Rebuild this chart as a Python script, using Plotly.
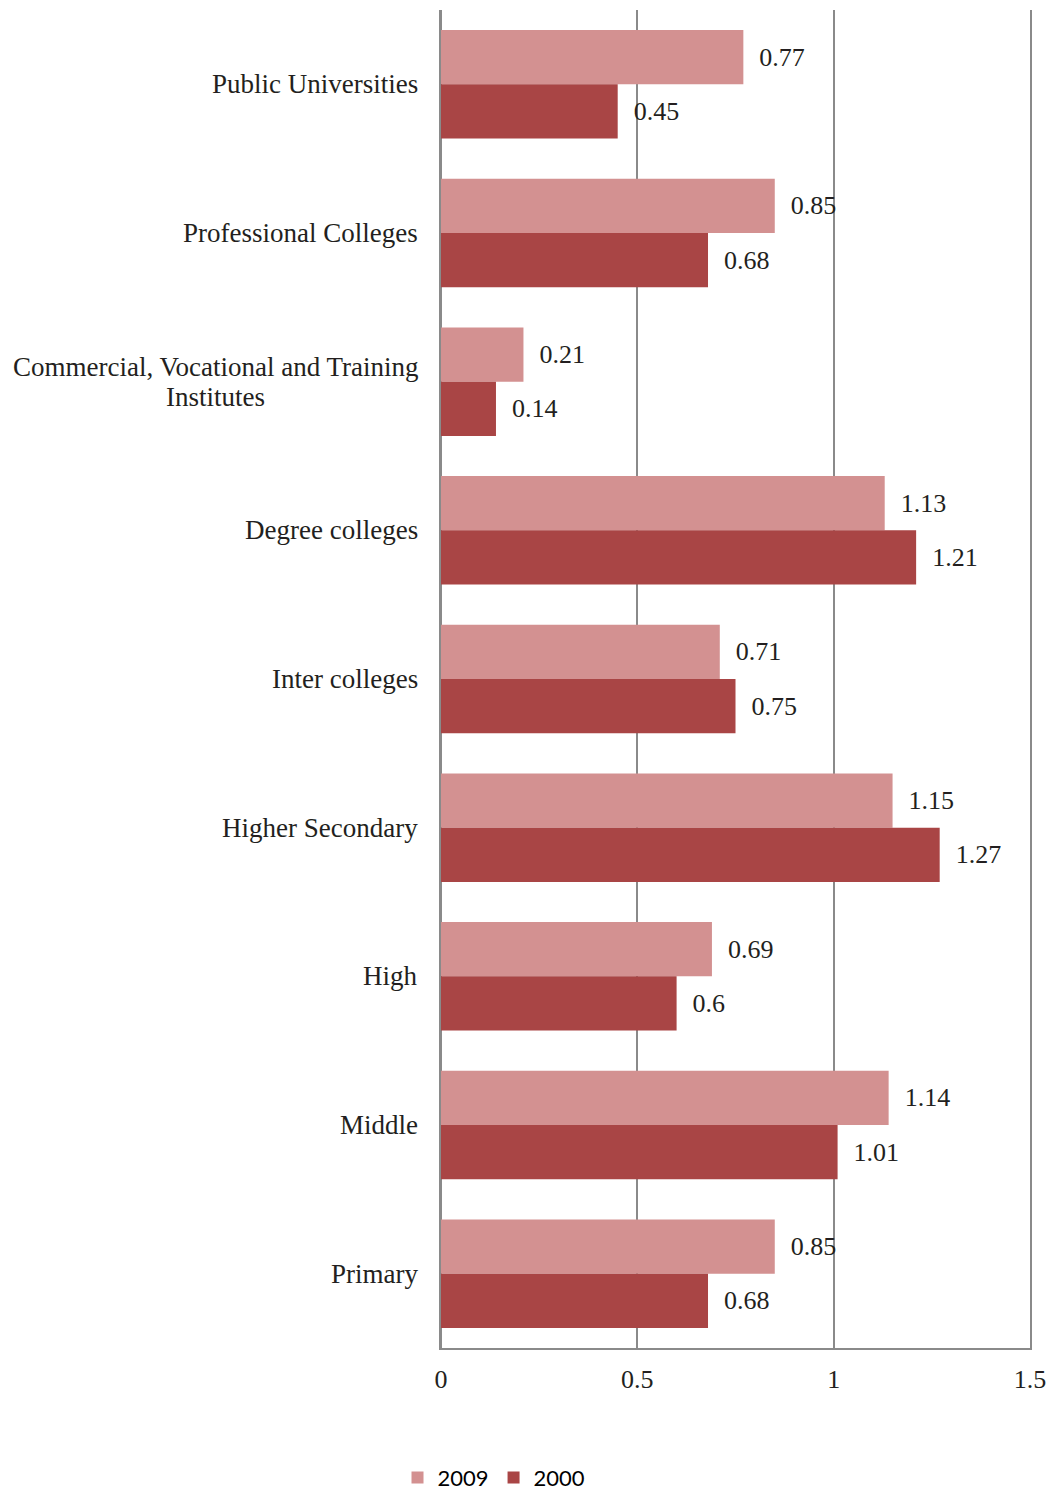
import plotly.graph_objects as go

# Categories listed top to bottom as they appear on the chart
categories = [
    "Public Universities",
    "Professional Colleges",
    "Commercial, Vocational and Training<br>Institutes",
    "Degree colleges",
    "Inter colleges",
    "Higher Secondary",
    "High",
    "Middle",
    "Primary",
]
values_2009 = [0.77, 0.85, 0.21, 1.13, 0.71, 1.15, 0.69, 1.14, 0.85]
values_2000 = [0.45, 0.68, 0.14, 1.21, 0.75, 1.27, 0.60, 1.01, 0.68]
x_ticks = [0, 0.5, 1, 1.5]
x_tick_labels = ["0", "0.5", "1", "1.5"]

serif = "Liberation Serif, Times New Roman, serif"
text_color = "#231f20"
grid_color = "#8a8a8a"
label_font = dict(family=serif, size=27, color=text_color)

fig = go.Figure()
for name, vals, color in [
    ("2009", values_2009, "#d39191"),
    ("2000", values_2000, "#a94545"),
]:
    fig.add_trace(go.Bar(
        name=name,
        y=categories,
        x=vals,
        orientation="h",
        marker=dict(color=color, line=dict(width=0)),
        texttemplate="\u2002%{x}",
        textposition="outside",
        textfont=dict(family=serif, size=26, color=text_color),
        cliponaxis=False,
    ))

# Category labels: single lines right-aligned next to the axis,
# wrapped labels drawn line by line around a shared centre with tight spacing
line_gap = 30
wrapped_centre = -0.3835  # paper x of the wrapped label's centre
for cat in categories:
    lines = cat.split("<br>")
    if len(lines) == 1:
        fig.add_annotation(
            x=0, xref="paper", xanchor="right", xshift=-21,
            y=cat, yref="y", yanchor="middle",
            text=cat, showarrow=False, font=label_font,
        )
    else:
        n = len(lines)
        for i, line in enumerate(lines):
            fig.add_annotation(
                x=wrapped_centre, xref="paper", xanchor="center",
                y=cat, yref="y", yanchor="middle",
                yshift=((n - 1) / 2 - i) * line_gap,
                text=line, showarrow=False, font=label_font,
            )

fig.update_layout(
    width=1053, height=1493,
    margin=dict(l=441, r=23, t=10, b=145, autoexpand=False),
    plot_bgcolor="white", paper_bgcolor="white",
    barmode="group", bargap=0.27, bargroupgap=0,
    showlegend=True,
    legend=dict(
        orientation="h", x=0.09, xanchor="center",
        y=-0.097, yanchor="middle",
        font=dict(family="Lato, Open Sans, sans-serif", size=22, color="#000000"),
        itemwidth=30,
    ),
    xaxis=dict(
        range=[0, 1.5],
        tickvals=x_ticks, ticktext=x_tick_labels,
        showgrid=True, gridcolor=grid_color, gridwidth=1.5,
        zeroline=True, zerolinecolor=grid_color, zerolinewidth=1.5,
        showline=True, linecolor=grid_color, linewidth=1.5,
        ticks="", ticklabelstandoff=7,
        tickfont=dict(family=serif, size=26, color=text_color),
    ),
    yaxis=dict(
        autorange="reversed",
        showticklabels=False, showgrid=False, zeroline=False,
        showline=True, mirror=True, linecolor=grid_color, linewidth=1.5,
        ticks="",
    ),
)

fig.write_html("out.html")
